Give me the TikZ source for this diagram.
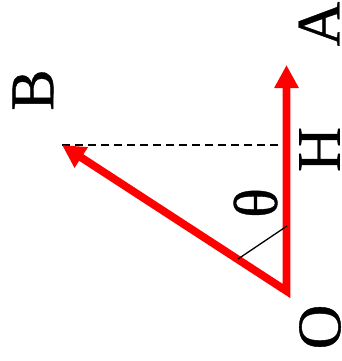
\documentclass[tikz,border=0pt]{standalone}
\usepackage{fontspec}
\setmainfont{Liberation Serif}[FakeBold=0.6]
\usetikzlibrary{arrows.meta}
\tikzset{
  vec/.style={draw=red, line width=7.8pt, line join=miter,
    {Triangle[length=23pt,width=23pt]}-{Triangle[length=23pt,width=23pt]}},
  lbl/.style={rotate=90, inner sep=0pt, font=\fontsize{62}{62}\selectfont},
  thin/.style={draw=black, line width=1.3pt},
  proj/.style={draw=black, line width=1.3pt, dash pattern=on 8pt off 5pt}
}
\begin{document}
\begin{tikzpicture}[x=1pt,y=-1pt]
\useasboundingbox (0,0) rectangle (342,361);
\coordinate (Opt) at (286.5,291);
\coordinate (Atip) at (286.5,65);
\coordinate (Btip) at (62,145);
\coordinate (Hpt) at (286.5,145);
\coordinate (t1) at (238,259);
\coordinate (t2) at (287,226);
\draw[proj] (Btip) -- (Hpt);
\draw[vec] (Btip) -- (Opt) -- (Atip);
\draw[thin] (t1) -- (t2);
\node[lbl] (A) at (319,24) {A};
\node[lbl] (B) at (33,90) {B};
\node[lbl] (H) at (319.5,149.5) {H};
\node[lbl] (O) at (320,327) {O};
\node[lbl] (theta) at (255.5,203) {θ};
\end{tikzpicture}
\end{document}
